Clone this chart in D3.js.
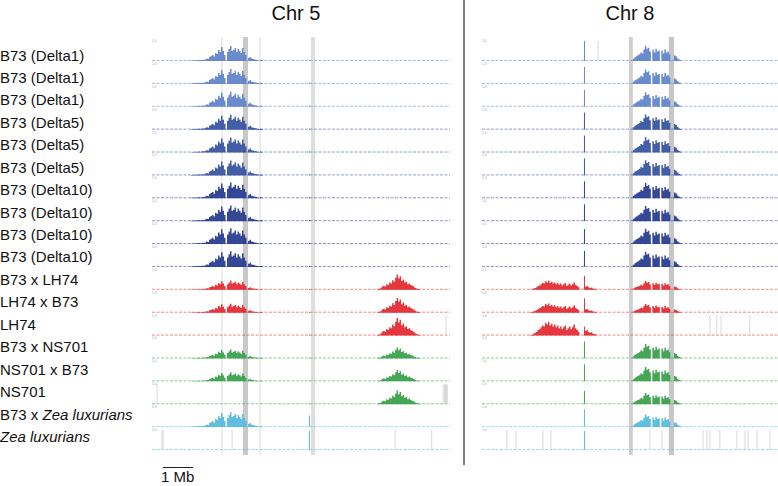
<!DOCTYPE html>
<html><head><meta charset="utf-8">
<script src="https://cdn.jsdelivr.net/npm/d3@7"></script>
<style>body{margin:0;background:#fff}svg{display:block}</style>
</head><body>
<script>
// ---------------- data ----------------
const panelTitles = ["Chr 5", "Chr 8"];
const rowLabels = ["B73 (Delta1)","B73 (Delta1)","B73 (Delta1)","B73 (Delta5)","B73 (Delta5)","B73 (Delta5)",
  "B73 (Delta10)","B73 (Delta10)","B73 (Delta10)","B73 (Delta10)","B73 x LH74","LH74 x B73","LH74",
  "B73 x NS701","NS701 x B73","NS701","B73 x |Zea luxurians","|Zea luxurians"];
const rowGroups = ["d1","d1","d1","d5","d5","d5","d10","d10","d10","d10","lh","lh","lh","ns","ns","ns","zl","zl"];
const trackTick = "1.0";
const chrLengthMb = [9.93, 9.87];
const binMb = 0.05;

// Chr 5 coverage profiles (relative height, 0.05 Mb bins)
const chr5MainStart = 1.3;
const chr5Main = [0.02,0.03,0.02,0.04,0.03,0.05,0.04,0.06,0.05,0.08,0.12,0.1,0.2,0.25,0.3,0.22,0.4,0.35,0.55,0.45,0.7,0.5,0.3,
  0,0.45,0.6,0.75,0.5,0.55,0.65,0.45,0.6,0.5,0.4,0.65,0.45,0.3];
const chr5BumpStart = 3.2;
const chr5Bump = [0.15,0.2,0.12,0.1,0.08,0.06,0.04,0.03,0.05,0.03];
const chr5RightStart = 7.5;
const chr5Right = [0.03,0.06,0.1,0.2,0.25,0.2,0.35,0.3,0.45,0.4,0.6,0.5,0.75,0.95,0.7,0.85,0.55,0.65,0.45,0.5,
  0.35,0.4,0.3,0.25,0.2,0.12,0.08,0.05,0.03];
const chr5SpikeMb = 5.23;

// Chr 8 coverage profiles
const chr8LeftStart = 1.6;
const chr8Left = [0.03,0.05,0.1,0.15,0.2,0.3,0.35,0.45,0.55,0.5,0.7,0.6,0.75,0.55,0.65,0.5,0.6,0.45,0.55,0.4,0.5,
  0.35,0.45,0.55,0.3,0.4,0.5,0.35,0.45,0.6,0.4,0.3,0.2];
const chr8LeftBumpStart = 3.43;
const chr8LeftBump = [0.25,0.3,0.2,0.15,0.18,0.1,0.08,0.05];
const chr8RightStart = 5.03;
const chr8Right = [0.12,0.2,0.25,0.3,0.35,0.45,0.4,0.6,0.8,0.65,0.7,0.5,0,0.6,0.45,0.65,0.5,0.55,0,0.55,0.4,0.6,0.45,0.5,0.35];
const chr8RightBumpStart = 6.4;
const chr8RightBump = [0.3,0.25,0.15,0.08,0.04];
const chr8SpikeMb = 3.4;

// per-row amplitudes
const chr5MainScale  = [1,1,1,1,1,1,1.05,1.05,1.05,1.05, 0.62,0.6,0, 0.6,0.6,0, 1.0,0];
const chr5RightScale = [0,0,0,0,0,0,0,0,0,0, 0.8,0.78,0.93, 0.58,0.6,0.72, 0,0];
const chr5Spike      = [0.06,0.06,0.06,0.05,0.05,0.05,0.05,0.05,0.05,0.05, 0.04,0.04,0.04, 0.04,0.04,0.04, 0.58,0.95];
const chr8LeftScale  = [0,0,0,0,0,0,0,0,0,0, 0.62,0.62,0.92, 0,0,0, 0,0];
const chr8RightScale = [0.95,0.9,0.9,0.95,0.95,0.95,0.95,0.95,0.95,0.95, 0.55,0.55,0, 0.9,0.9,0.7, 0.8,0];
const chr8Spike      = [1.0,0.85,0.85,0.85,0.85,0.85,0.85,0.85,0.75,0.8, 0.7,0.72,0.45, 0.85,0.85,0.67, 0.9,0.95];

// shaded regions (Mb) and reference lines
const chr5Bands = [[3.03,3.2,"#c9c9c9"],[5.3,5.43,"#dedede"]];
const chr8Bands = [[4.9,5.03,"#cfcfcf"],[6.23,6.4,"#c6c6c6"]];
const chr5Lines = [2.33, 3.6];
// per-row gap lines
const chr5Gaps = {12:[9.8], 15:[0.17,9.7,9.75,9.78,9.81,9.84], 17:[0.33,0.37,2.67,8.1,9.32]};
const chr8Gaps = {0:[3.87], 12:[7.6,7.83,7.97,8.93],
  17:[0.83,1.13,2.03,2.3,5.6,6.0,7.37,7.5,7.6,7.93,8.5,8.77,8.87,9.17,9.6]};

const groupColor = {d1:"#5d81c9", d5:"#33509f", d10:"#24388f", lh:"#e3262d", ns:"#35a046", zl:"#55b8db"};

// ---------------- drawing ----------------
const W = 778, H = 486;
const svg = d3.select("body").append("svg").attr("width", W).attr("height", H)
  .style("font-family", "'Liberation Sans', Arial, Helvetica, sans-serif");

const xs = [d3.scaleLinear().domain([0, chrLengthMb[0]]).range([152, 450]),
            d3.scaleLinear().domain([0, chrLengthMb[1]]).range([482, 778])];
const rowY = d3.scaleLinear().domain([0, rowLabels.length - 1]).range([61, 450]);
const labelY = d3.scaleLinear().domain([0, rowLabels.length - 1]).range([60.5, 442]);
const trackH = 20;
const bandTop = 37, bandBottom = 455;

// titles
svg.selectAll("text.title").data(panelTitles).join("text").attr("class","title")
  .attr("x", (d,i) => i === 0 ? 296 : 630).attr("y", 20).attr("text-anchor","middle")
  .attr("font-size", 20).attr("fill","#111").text(d => d);

// divider
svg.append("line").attr("x1",464).attr("x2",464).attr("y1",0).attr("y2",465).attr("stroke","#000").attr("stroke-width",1);

// bands
[[chr5Bands,0],[chr8Bands,1]].forEach(([bands,p]) => {
  svg.append("g").selectAll("rect").data(bands).join("rect")
    .attr("x", d => xs[p](d[0])).attr("width", d => xs[p](d[1]) - xs[p](d[0]))
    .attr("y", bandTop).attr("height", bandBottom - bandTop).attr("fill", d => d[2]);
});
svg.append("g").selectAll("line").data(chr5Lines).join("line")
  .attr("x1", d => xs[0](d)).attr("x2", d => xs[0](d)).attr("y1", bandTop).attr("y2", bandBottom)
  .attr("stroke","#dadada").attr("stroke-width",1);

// labels
const lab = svg.append("g").selectAll("text").data(rowLabels).join("text")
  .attr("x", 0).attr("y", (d,i) => labelY(i)).attr("font-size", 15).attr("fill","#111");
lab.each(function(d){
  const parts = d.split("|");
  const t = d3.select(this);
  t.append("tspan").text(parts[0]);
  if (parts.length > 1) t.append("tspan").attr("font-style","italic").text(parts[1]);
});

function profileSeries(start, values, scale) {
  const pts = values.map((v,i) => ({x: start + i*binMb, v: v*scale}));
  pts.push({x: start + values.length*binMb, v: 0});
  return pts;
}

rowLabels.forEach((lbl, i) => {
  const base = rowY(i);
  const y = d3.scaleLinear().domain([0,1]).range([base, base - trackH]);
  const col = groupColor[rowGroups[i]];
  [0,1].forEach(p => {
    const x = xs[p];
    const g = svg.append("g");
    // tick label
    g.append("text").attr("x", x.range()[0]).attr("y", base - trackH + 1).attr("font-size", 3.2)
      .attr("fill","#999").text(trackTick);
    // baseline
    g.append("line").attr("x1", x.range()[0]).attr("x2", x.range()[1]).attr("y1", base - 0.5).attr("y2", base - 0.5)
      .attr("stroke", col).attr("stroke-opacity", 0.55).attr("stroke-width", 1).attr("stroke-dasharray","3,1.5");
    // gap lines
    const gaps = (p === 0 ? chr5Gaps : chr8Gaps)[i] || [];
    g.selectAll("line.gap").data(gaps).join("line").attr("class","gap")
      .attr("x1", d => x(d)).attr("x2", d => x(d)).attr("y1", base - trackH).attr("y2", base)
      .attr("stroke","#d4d4d4").attr("stroke-width",0.9);
    const area = d3.area().curve(d3.curveStepAfter).x(d => x(d.x)).y0(base).y1(d => y(d.v));
    const series = [];
    if (p === 0) {
      if (chr5MainScale[i] > 0) {
        series.push(profileSeries(chr5MainStart, chr5Main, chr5MainScale[i]));
        series.push(profileSeries(chr5BumpStart, chr5Bump, chr5MainScale[i]));
      }
      if (chr5RightScale[i] > 0) series.push(profileSeries(chr5RightStart, chr5Right, chr5RightScale[i]));
      series.push(profileSeries(chr5SpikeMb, [1], chr5Spike[i]).map((d,k)=> k===1 ? {x: chr5SpikeMb+0.035, v:0} : d));
    } else {
      if (chr8LeftScale[i] > 0) {
        series.push(profileSeries(chr8LeftStart, chr8Left, chr8LeftScale[i]));
        series.push(profileSeries(chr8LeftBumpStart, chr8LeftBump, chr8LeftScale[i]));
      }
      if (chr8RightScale[i] > 0) {
        series.push(profileSeries(chr8RightStart, chr8Right, chr8RightScale[i]));
        series.push(profileSeries(chr8RightBumpStart, chr8RightBump, chr8RightScale[i]));
      }
      series.push(profileSeries(chr8SpikeMb, [1], chr8Spike[i]).map((d,k)=> k===1 ? {x: chr8SpikeMb+0.035, v:0} : d));
    }
    g.selectAll("path.cov").data(series).join("path").attr("class","cov")
      .attr("d", area).attr("fill", col).attr("fill-opacity", 0.92);
  });
});

// scale bar
svg.append("line").attr("x1", xs[0](0.37)).attr("x2", xs[0](1.37)).attr("y1", 467.5).attr("y2", 467.5)
  .attr("stroke","#222").attr("stroke-width",1);
svg.append("text").attr("x", 161).attr("y", 482).attr("font-size",15).attr("fill","#111").text("1 Mb");
</script>
</body></html>
